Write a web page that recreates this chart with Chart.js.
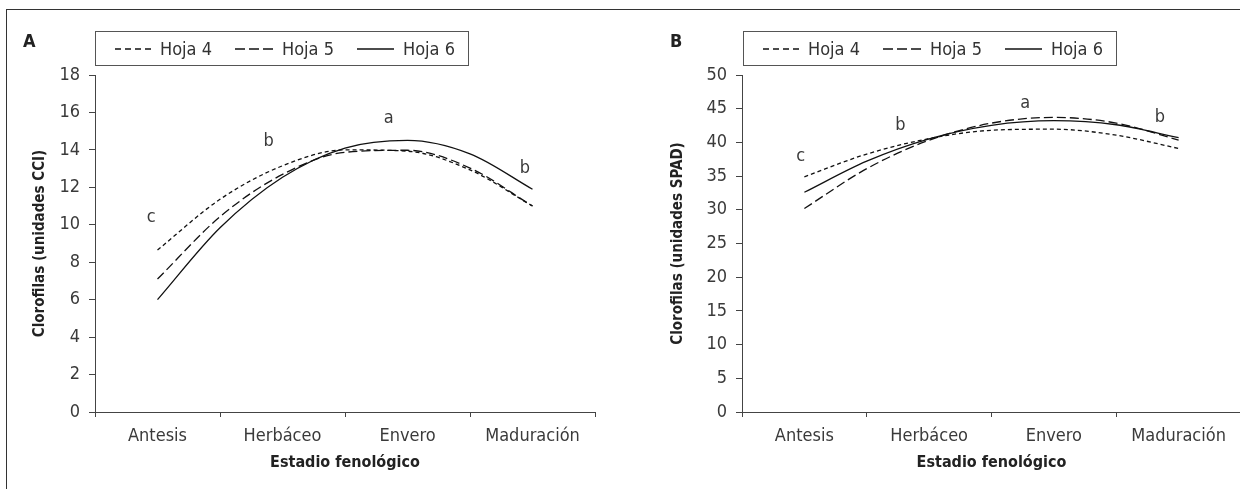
<!DOCTYPE html>
<html>
<head>
<meta charset="utf-8">
<script src="https://cdn.jsdelivr.net/npm/chart.js@4.4.1/dist/chart.umd.min.js"></script>
<style>
  html, body { margin: 0; padding: 0; background: #fff; }
  body { width: 1240px; height: 489px; overflow: hidden; position: relative;
         font-family: 'DejaVu Sans Condensed', 'DejaVu Sans', sans-serif; color: #333; }
  #frame { position: absolute; left: 6px; top: 9px; width: 1400px; height: 700px; border: 1.5px solid #333; }
  .wrap { position: absolute; top: 0; height: 489px; }
  #wa { left: 0; width: 620px; }
  #wb { left: 620px; width: 640px; }
  .panel { position: absolute; font-weight: bold; font-size: 18px; color: #222; }
  .legend { position: absolute; top: 31px; width: 372px; height: 33px; border: 1px solid #555; background: #fff; }
  .item { position: absolute; top: 0; height: 33px; display: flex; align-items: center; font-size: 18px; color: #333; }
  .item svg { margin-right: 9px; }
</style>
</head>
<body>
<div id="frame"></div>
<div class="wrap" id="wa"><canvas id="ca" width="620" height="489"></canvas></div>
<div class="wrap" id="wb"><canvas id="cb" width="640" height="489"></canvas></div>
<div class="panel" style="left:23px;top:30px;">A</div>
<div class="panel" style="left:670px;top:30px;">B</div>
<div class="legend" id="la" style="left:95px;"></div>
<div class="legend" id="lb" style="left:743px;"></div>
<script>
// ---- data ----
const categories = ['Antesis', 'Herbáceo', 'Envero', 'Maduración'];
const seriesNames = ['Hoja 4', 'Hoja 5', 'Hoja 6'];
// positions along the phenological axis (0 = Antesis ... 3 = Maduración) where values were read
const stagePos = [0, 0.5, 1, 1.5, 2, 2.5, 3];

// Panel A: Clorofilas (unidades CCI)
const hoja4A = [8.65, 11.36, 13.15, 14.0, 13.93, 12.93, 11.0];
const hoja5A = [7.1, 10.43, 12.69, 13.87, 13.98, 13.03, 11.0];
const hoja6A = [6.0, 9.84, 12.54, 14.10, 14.51, 13.79, 11.9];
const yTicksA = [0, 2, 4, 6, 8, 10, 12, 14, 16, 18];
const lettersA = ['c', 'b', 'a', 'b'];
const lettersAPos = [-0.05, 0.89, 1.85, 2.94];
const lettersAVal = [10.4, 14.45, 15.7, 13.0];

// Panel B: Clorofilas (unidades SPAD)
const hoja4B = [34.9, 38.27, 40.56, 41.80, 41.96, 41.07, 39.1];
const hoja5B = [30.2, 36.1, 40.33, 42.86, 43.71, 42.87, 40.35];
const hoja6B = [32.6, 37.22, 40.53, 42.54, 43.23, 42.62, 40.7];
const yTicksB = [0, 5, 10, 15, 20, 25, 30, 35, 40, 45, 50];
const lettersB = ['c', 'b', 'a', 'b'];
const lettersBPos = [-0.03, 0.77, 1.77, 2.85];
const lettersBVal = [37.9, 42.6, 45.8, 43.7];

// ---- styles ----
const FONT = "'DejaVu Sans Condensed', 'DejaVu Sans', sans-serif";
const dashes = [[4, 3], [9, 4], []];
const legendDashes = [[6, 4], [10, 4], []];
const INK = '#111';
const TXT = '#3a3a3a';

function pts(vals) { return stagePos.map((p, i) => ({ x: p, y: vals[i] })); }

const letterPlugin = {
  id: 'letters',
  afterDatasetsDraw(chart, args, opts) {
    const { ctx } = chart;
    const xs = chart.scales.xl, ys = chart.scales.y;
    ctx.save();
    ctx.font = '18px ' + FONT;
    ctx.fillStyle = TXT;
    ctx.textAlign = 'center';
    ctx.textBaseline = 'middle';
    opts.labels.forEach((l, i) => {
      ctx.fillText(l, xs.getPixelForValue(opts.pos[i]), ys.getPixelForValue(opts.val[i]));
    });
    ctx.restore();
  }
};

function makeChart(id, series, yTicks, yTitle, yWidth, titlePad, padRight, letters, lpos, lval) {
  const yMax = yTicks[yTicks.length - 1];
  const step = yTicks[1] - yTicks[0];
  return new Chart(document.getElementById(id), {
    type: 'line',
    data: {
      labels: categories,
      datasets: series.map((s, i) => ({
        label: seriesNames[i],
        data: pts(s),
        xAxisID: 'xl',
        yAxisID: 'y',
        borderColor: INK,
        borderWidth: 1.3,
        borderDash: dashes[i],
        pointRadius: 0,
        cubicInterpolationMode: 'monotone',
        fill: false
      }))
    },
    options: {
      responsive: false,
      animation: false,
      devicePixelRatio: 1,
      layout: { padding: { top: 75, right: padRight, bottom: 0, left: 0 } },
      plugins: {
        legend: { display: false },
        tooltip: { enabled: false },
        letters: { labels: letters, pos: lpos, val: lval }
      },
      scales: {
        x: {
          type: 'category',
          position: 'bottom',
          offset: true,
          afterFit(s) { s.height = 77; },
          grid: { offset: true, drawOnChartArea: false, drawTicks: true, tickLength: 5, color: '#444' },
          border: { color: '#444', width: 1 },
          ticks: { color: TXT, font: { family: FONT, size: 18 }, padding: 9, maxRotation: 0 },
          title: { display: true, text: 'Estadio fenológico', color: '#222',
                   font: { family: FONT, size: 16, weight: 'bold' }, padding: { top: 0, bottom: 17 } }
        },
        xl: { type: 'linear', display: false, min: -0.5, max: 3.5 },
        y: {
          position: 'left',
          min: 0, max: yMax,
          afterFit(s) { s.width = yWidth; },
          afterBuildTicks(s) { s.ticks = yTicks.map(v => ({ value: v })); },
          grid: { drawOnChartArea: false, drawTicks: true, tickLength: 6, color: '#444' },
          border: { color: '#444', width: 1 },
          ticks: { color: TXT, font: { family: FONT, size: 18 }, padding: 9, stepSize: step },
          title: { display: true, text: yTitle, color: '#222',
                   font: { family: FONT, size: 15, weight: 'bold' }, padding: { top: titlePad, bottom: 0 } }
        }
      }
    },
    plugins: [letterPlugin]
  });
}

makeChart('ca', [hoja4A, hoja5A, hoja6A], yTicksA, 'Clorofilas (unidades CCI)', 95, 31, 25, lettersA, lettersAPos, lettersAVal);
makeChart('cb', [hoja4B, hoja5B, hoja6B], yTicksB, 'Clorofilas (unidades SPAD)', 122, 49, 19, lettersB, lettersBPos, lettersBVal);

// ---- HTML legends ----
function buildLegend(el) {
  const itemLeft = [19, 139, 261];
  const sampleW = [36, 38, 37];
  seriesNames.forEach((n, i) => {
    const d = document.createElement('div');
    d.className = 'item';
    d.style.left = itemLeft[i] + 'px';
    const dash = legendDashes[i].length ? legendDashes[i].join(',') : 'none';
    d.innerHTML = '<svg width="' + sampleW[i] + '" height="4"><line x1="0" y1="2" x2="' + sampleW[i] +
      '" y2="2" stroke="#111" stroke-width="1.3" stroke-dasharray="' + dash + '"/></svg><span>' + n + '</span>';
    el.appendChild(d);
  });
}
buildLegend(document.getElementById('la'));
buildLegend(document.getElementById('lb'));
</script>
</body>
</html>
